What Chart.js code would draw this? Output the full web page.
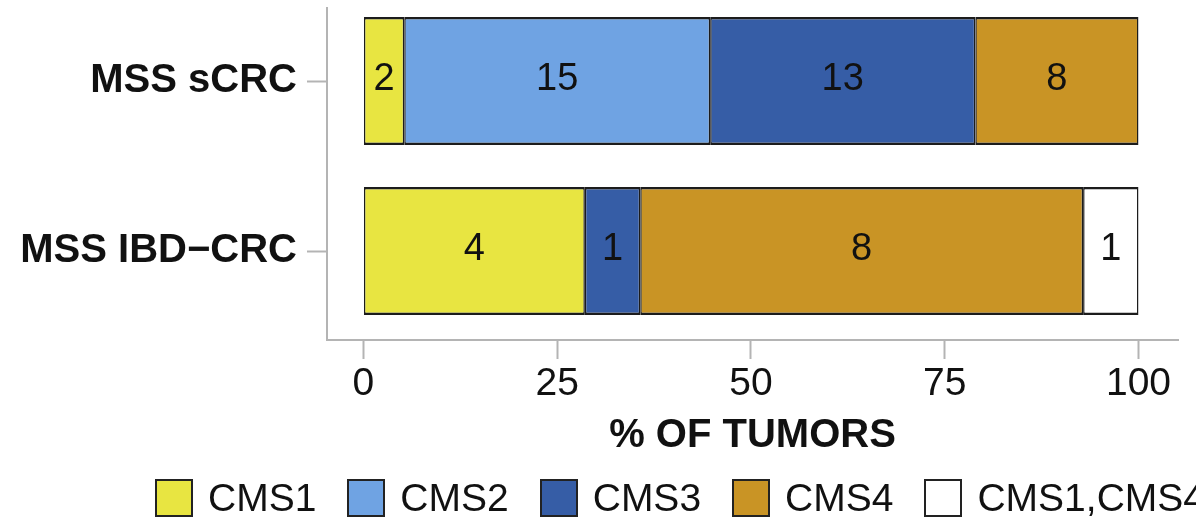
<!DOCTYPE html>
<html>
<head>
<meta charset="utf-8">
<title>CMS subtypes</title>
<script src="https://cdn.jsdelivr.net/npm/chart.js@4.4.1/dist/chart.umd.min.js"></script>
<style>
  html, body { margin: 0; padding: 0; background: #fff; overflow: hidden; }
  #wrap { position: relative; width: 1196px; height: 522px; overflow: hidden; }
  #legend {
    position: absolute; left: 155px; top: 479px;
    display: flex; white-space: nowrap;
    font: 39px 'Liberation Sans', Arial, sans-serif; color: #111;
  }
  .item { display: flex; align-items: center; margin-right: 31px; line-height: 38px; flex: none; }
  .swatch { width: 34px; height: 34px; border: 2px solid #222; margin-right: 15px; flex: none; }
</style>
</head>
<body>
<div id="wrap">
  <canvas id="graph" width="1196" height="522"></canvas>
  <div id="legend"></div>
</div>
<script>
// tumour groups (rows) and subtype counts per group
const groups = ['MSS sCRC', 'MSS IBD\u2212CRC'];
const subtypes = ['CMS1', 'CMS2', 'CMS3', 'CMS4', 'CMS1,CMS4'];
const cms1 = [2, 4];
const cms2 = [15, 0];
const cms3 = [13, 1];
const cms4 = [8, 8];
const cms1cms4 = [0, 1];
const xTicks = [0, 25, 50, 75, 100];

const style = {
  cms1: '#E8E541',
  cms2: '#6FA3E3',
  cms3: '#365DA6',
  cms4: '#C99425',
  mixed: '#FFFFFF',
  outline: '#1c1c1c',
  axis: '#b4b4b4',
  text: '#111',
  font: "'Liberation Sans', Arial, sans-serif"
};

const counts = [cms1, cms2, cms3, cms4, cms1cms4];
const colors = [style.cms1, style.cms2, style.cms3, style.cms4, style.mixed];
const totals = groups.map((g, j) => counts.reduce((s, c) => s + c[j], 0));

// each subtype becomes one stacked dataset, as % of the group's tumours
const datasets = subtypes.map((name, i) => ({
  label: name,
  counts: counts[i],
  data: counts[i].map((n, j) => ({ x: n ? n / totals[j] * 100 : null, y: j })),
  backgroundColor: colors[i],
  borderColor: style.outline,
  borderWidth: { top: 2.5, bottom: 2.5, left: 1.5, right: 1.5 },
  borderSkipped: false,
  barPercentage: 0.753,
  categoryPercentage: 1
}));

// write the count in the middle of each segment
const countLabels = {
  id: 'countLabels',
  afterDatasetsDraw(chart) {
    const ctx = chart.ctx;
    ctx.save();
    ctx.font = '38px ' + style.font;
    ctx.fillStyle = style.text;
    ctx.textAlign = 'center';
    ctx.textBaseline = 'middle';
    chart.data.datasets.forEach((ds, i) => {
      chart.getDatasetMeta(i).data.forEach((bar, j) => {
        const n = ds.counts[j];
        if (!n) return;
        ctx.fillText(String(n), (bar.x + bar.base) / 2, bar.y - 2);
      });
    });
    ctx.restore();
  }
};

const graph = new Chart(document.getElementById('graph'), {
  type: 'bar',
  data: { datasets },
  plugins: [countLabels],
  options: {
    indexAxis: 'y',
    responsive: false,
    animation: false,
    events: [],
    layout: { padding: { top: 8, right: 18, bottom: 62, left: 0 } },
    plugins: { legend: { display: false }, tooltip: { enabled: false } },
    scales: {
      x: {
        type: 'linear',
        stacked: true,
        min: -4.7,
        max: 105.1,
        afterFit: (s) => { s.height = 120; },
        afterBuildTicks: (s) => { s.ticks = xTicks.map(v => ({ value: v })); },
        border: { display: true, color: style.axis, width: 2 },
        grid: { drawOnChartArea: false, drawTicks: true, tickLength: 19, tickColor: style.axis, tickWidth: 2 },
        ticks: { color: style.text, padding: 2, font: { family: style.font, size: 39 } },
        title: {
          display: true,
          text: '% OF TUMORS',
          color: style.text,
          padding: 0,
          font: { family: style.font, size: 40, weight: 'bold' }
        }
      },
      y: {
        type: 'linear',
        stacked: true,
        reverse: true,
        offset: false,
        min: -0.43,
        max: 1.523,
        // row labels sit well inside the axis, so no edge padding is needed
        afterFit: (s) => { s.width = 327; s.paddingTop = 0; s.paddingBottom = 0; },
        afterBuildTicks: (s) => { s.ticks = groups.map((g, j) => ({ value: j })); },
        border: { display: true, color: style.axis, width: 2 },
        grid: { offset: false, drawOnChartArea: false, drawTicks: true, tickLength: 20, tickColor: style.axis, tickWidth: 2 },
        ticks: {
          color: style.text,
          padding: 10,
          font: { family: style.font, size: 40, weight: 'bold' },
          callback: (v) => groups[v] ?? ''
        }
      }
    }
  }
});

// legend row built from the chart's own datasets
const legend = document.getElementById('legend');
graph.data.datasets.forEach(ds => {
  const item = document.createElement('div');
  item.className = 'item';
  const sw = document.createElement('span');
  sw.className = 'swatch';
  sw.style.background = ds.backgroundColor;
  item.appendChild(sw);
  item.appendChild(document.createTextNode(ds.label));
  legend.appendChild(item);
});
</script>
</body>
</html>
